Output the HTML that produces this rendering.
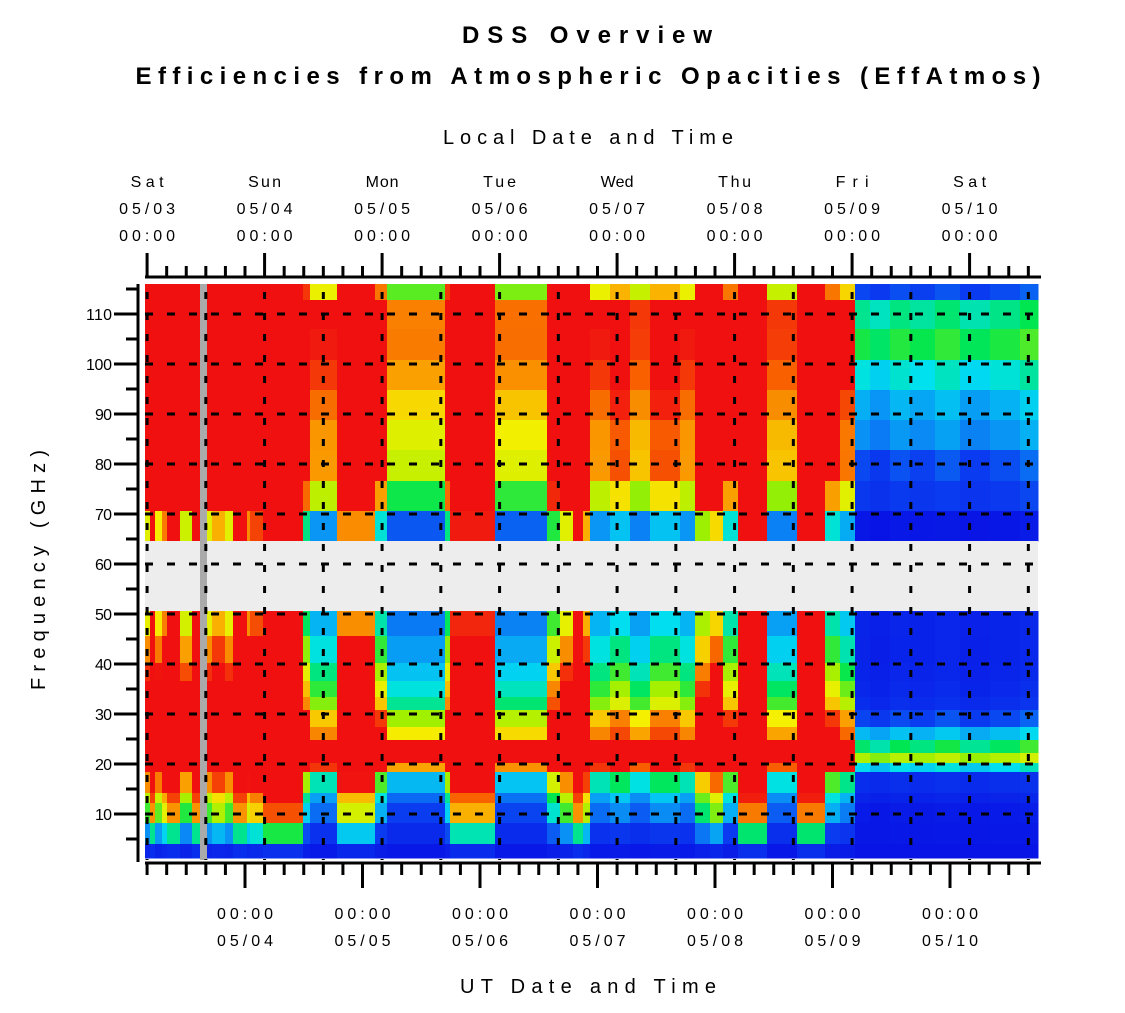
<!DOCTYPE html>
<html><head><meta charset="utf-8"><style>
html,body{margin:0;padding:0;background:#fff;}
svg{display:block;font-family:"Liberation Sans",sans-serif;}
</style></head><body>
<svg id="chart" width="1125" height="1013" viewBox="0 0 1125 1013" xmlns="http://www.w3.org/2000/svg">
<rect x="0" y="0" width="1125" height="1013" fill="#fff"/>
<text x="587" y="43" text-anchor="middle" font-size="24" font-weight="bold" textLength="250" lengthAdjust="spacing">DSS Overview</text>
<text x="588" y="84" text-anchor="middle" font-size="24" font-weight="bold" textLength="905" lengthAdjust="spacing">Efficiencies from Atmospheric Opacities (EffAtmos)</text>
<text x="588" y="144" text-anchor="middle" font-size="20" textLength="290" lengthAdjust="spacing">Local Date and Time</text>
<text x="588" y="993" text-anchor="middle" font-size="20" textLength="256" lengthAdjust="spacing">UT Date and Time</text>
<text transform="translate(45,570) rotate(-90)" text-anchor="middle" font-size="20" textLength="240" lengthAdjust="spacing">Frequency (GHz)</text>
<g id="cells" shape-rendering="crispEdges"></g>
<g id="overlay"></g>
<g id="axes"></g>
</svg>
<script>
// time segments (UT hours since 05/03 00:00) and wetness level
const segStart = [3.57,4.6,5.6,7.05,8.07,10.7,13.2,16.2,17.3,19.9,21.5,24.4,25.0,27.7,35.8,37.3,42.8,50.6,53.0,64.8,65.9,75.1,85.7,88.3,91.0,93.0,94.5,98.6,102.6,106.7,112.8,115.9,119.0,121.6,124.7,130.6,136.7,142.5,145.5,148.6,151.7,155.7,159.8,164.9,170.0,176.2,182.3];
const segEnd = 185.97;
const segWet = [2.6,4,2.7,3.3,4,2.5,4,2.6,3,2.6,4,3.2,3.6,4.5,1.8,1.2,3.2,1.6,0.9,1.8,3.8,0.95,2,2.6,4,3,1.2,1.4,1.1,1.4,1.2,2.3,2.8,1.6,4.2,1.1,4.2,1.6,1.3,0.12,0.06,0.14,0.1,0.16,0.08,0.13,0.2];
// frequency rows (GHz) with dry and wet sensitivity
const rowLo = [112.8,107,100.8,94.8,88.8,82.8,76.6,70.6,64.6, 45.6,40.2,36.6,33.4,30.8,27.4,24.8,22.2,20.2,18.4,14.2,12.2,8.2,4.0,1.2];
const rowHi = [116,112.8,107,100.8,94.8,88.8,82.8,76.6,70.6, 50.6,45.6,40.2,36.6,33.4,30.8,27.4,24.8,22.2,20.2,18.4,14.2,12.2,8.2,4.0];
const rowDry = [0.16,0.4,0.46,0.35,0.28,0.25,0.15,0.13,0.0, 0.06,0.05,0.05,0.06,0.08,0.15,0.3,0.4,0.55,0.33,0.1,0.06,0.02,0.02,0.01];
const rowWetS = [0.44,0.5,0.44,0.5,0.5,0.47,0.55,0.42,0.26, 0.24,0.3,0.35,0.39,0.42,0.5,0.45,0.7,0.55,0.52,0.28,0.22,0.2,0.11,0.03];
const yMajor = [10,20,30,40,50,60,70,80,90,100,110];
const yMinor = [5,15,25,35,45,55,65,75,85,95,105,115];
const topDays = ["Sat","Sun","Mon","Tue","Wed","Thu","Fri","Sat"];
const topDates = ["05/03","05/04","05/05","05/06","05/07","05/08","05/09","05/10"];
const botDates = ["05/04","05/05","05/06","05/07","05/08","05/09","05/10"];
const tzOffset = 4;

const NS="http://www.w3.org/2000/svg";
const X0=145, X1=1038, Y0=284, Y1=860;
function xOf(h){return 245+(h-24)*117.5/24;}
function yOf(f){return 314+(110-f)*5;}
const stops=[[0,[8,16,228]],[0.2,[10,60,240]],[0.3,[10,140,245]],[0.4,[0,225,240]],[0.5,[0,230,80]],[0.6,[160,240,0]],[0.7,[245,240,0]],[0.8,[250,160,0]],[0.9,[248,96,0]],[1.0,[240,16,16]]];
function color(v){
  if(v<=0)v=0; if(v>=1)return "rgb(240,16,16)";
  for(let i=1;i<stops.length;i++){if(v<=stops[i][0]){const a=stops[i-1],b=stops[i];const t=(v-a[0])/(b[0]-a[0]);const c=a[1].map((x,k)=>Math.round(x+(b[1][k]-x)*t));return "rgb("+c.join(",")+")";}}
}
function mk(tag,attrs,parent){const e=document.createElementNS(NS,tag);for(const k in attrs)e.setAttribute(k,attrs[k]);parent.appendChild(e);return e;}
const cells=document.getElementById('cells');
for(let i=0;i<segStart.length;i++){
  const xa=xOf(segStart[i]), xb=xOf(i+1<segStart.length?segStart[i+1]:segEnd);
  for(let r=0;r<rowLo.length;r++){
    const ya=yOf(rowHi[r]), yb=yOf(rowLo[r]);
    const v=rowDry[r]+rowWetS[r]*segWet[i];
    const el=mk('rect',{x:xa.toFixed(2),y:ya.toFixed(2),width:(xb-xa+0.6).toFixed(2),height:(yb-ya+0.6).toFixed(2),fill:color(v)},cells);
    
    
  }
}
const ov=document.getElementById('overlay');
let band=mk('rect',{x:X0,y:yOf(64.6),width:X1-X0,height:yOf(50.6)-yOf(64.6),fill:"#ededed"},ov);


let gap=mk('rect',{x:200,y:Y0,width:7,height:Y1-Y0,fill:"#aaaaaa"},ov);


for(let k=0;k<16;k++){
  const x=xOf(tzOffset+12*k); if(x>X1)break;
  const g=mk('line',{x1:x,y1:Y0+8,x2:x,y2:Y1,stroke:"#000","stroke-width":3,"stroke-dasharray":"7,14"},ov);
  
  
}
for(const f of yMajor){
  const y=yOf(f);
  const g=mk('line',{x1:X0,y1:y,x2:X1,y2:y,stroke:"#000","stroke-width":3,"stroke-dasharray":"8,14"},ov);
  
  
}
const ax=document.getElementById('axes');
function ln(x1,y1,x2,y2,w,name){const e=mk('line',{x1,y1,x2,y2,stroke:"#000","stroke-width":w},ax);return e;}
function tx(x,y,s,anchor,name,len){const a={x,y,"font-size":16,"text-anchor":anchor};if(len){a.textLength=len;a.lengthAdjust="spacing";}const e=mk('text',a,ax);e.textContent=s;return e;}
ln(138,Y0,138,862,3,'y-axis-line');
ln(X0,277,1041,277,3,'top-axis-line');
ln(X0,863,1041,863,3,'bottom-axis-line');
for(const f of yMajor){ln(114,yOf(f),138,yOf(f),3,'y-major-tick');tx(112,yOf(f)+6,String(f),'end','y-tick-label',f>=100?26:17);}
for(const f of yMinor){if(yOf(f)<Y0-2)continue;ln(126,yOf(f),138,yOf(f),3,'y-minor-tick');}
for(let h=4;h<=186;h+=4){
  const x=xOf(h);
  const topMajor=((h-tzOffset)%24===0);
  ln(x,topMajor?253:266,x,277,3,topMajor?'top-major-tick':'top-minor-tick');
  const botMajor=(h%24===0);
  ln(x,863,x,botMajor?888:875,3,botMajor?'bottom-major-tick':'bottom-minor-tick');
}
for(let k=0;k<topDays.length;k++){
  const x=xOf(tzOffset+24*k);
  tx(x,187,topDays[k],'middle','top-day-label',topDays[k].length*11);
  tx(x,214,topDates[k],'middle','top-date-label',56);
  tx(x,241,"00:00",'middle','top-time-label',56);
}
for(let k=0;k<botDates.length;k++){
  const x=xOf(24*(k+1));
  tx(x,919,"00:00",'middle','bottom-time-label',56);
  tx(x,946,botDates[k],'middle','bottom-date-label',56);
}
</script>
</body></html>
